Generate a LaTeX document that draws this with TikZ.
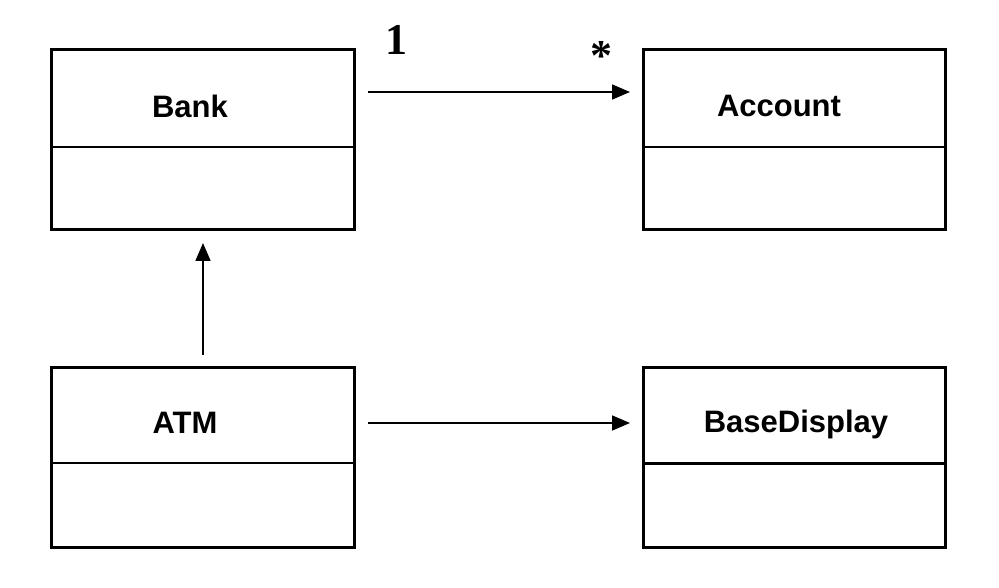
\documentclass[tikz,border=0pt]{standalone}
\usepackage{fontspec}
\setmainfont{Liberation Sans}
\newfontfamily\serifb{Liberation Serif}
\usetikzlibrary{arrows.meta}
\begin{document}
\begin{tikzpicture}[x=1pt,y=-1pt,
  box/.style={draw,line width=3pt},
  sep/.style={line width=1.6pt},
  lbl/.style={font=\bfseries\fontsize{31}{34}\selectfont},
  arr/.style={line width=1.8pt,-{Triangle[length=18pt,width=15pt]}}]
\useasboundingbox (0,0) rectangle (999,588);
\draw[box] (51,50) rectangle (354,230);
\draw[sep] (51,147) -- (354,147);
\draw[box] (643,50) rectangle (945,230);
\draw[sep] (643,147) -- (945,147);
\draw[box] (51,367) rectangle (354,547);
\draw[sep] (51,463) -- (354,463);
\draw[box] (643,367) rectangle (945,547);
\draw[line width=3pt] (643,463) -- (945,463);
\node[lbl] (bank) at (190,106) {Bank};
\node[lbl] (account) at (779,106) {Account};
\node[lbl] (atm) at (185,423) {ATM};
\node[lbl] (disp) at (796,424) {BaseDisplay};
\coordinate (a1) at (368,92); \coordinate (a2) at (630,92);
\coordinate (b1) at (368,423); \coordinate (b2) at (630,423);
\coordinate (c1) at (203,355); \coordinate (c2) at (203,243);
\draw[arr] (a1) -- (a2);
\draw[arr] (b1) -- (b2);
\draw[arr] (c1) -- (c2);
\node[font=\serifb\bfseries\fontsize{44}{48}\selectfont] (one) at (396,40) {1};
\node[font=\serifb\bfseries\fontsize{44}{46}\selectfont] (star) at (601,56) {*};
\end{tikzpicture}
\end{document}
